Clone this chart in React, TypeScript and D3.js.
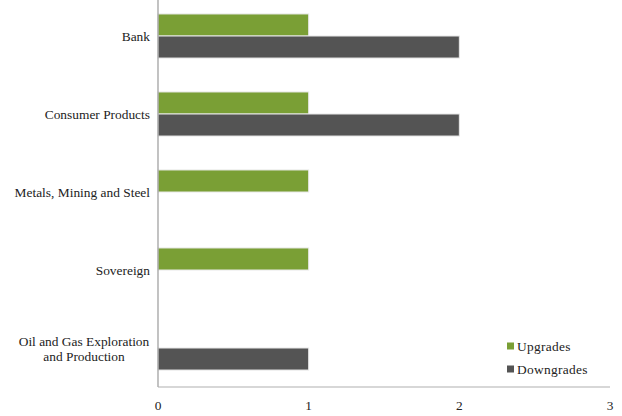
import React from "react";
import * as d3 from "d3";

const categories = [
  "Bank",
  "Consumer Products",
  "Metals, Mining and Steel",
  "Sovereign",
  "Oil and Gas Exploration|and Production",
];
const upgrades = [1, 1, 1, 1, 0];
const downgrades = [2, 2, 0, 0, 1];
const seriesNames = ["Upgrades", "Downgrades"];
const seriesColors = ["#7A9F35", "#545454"];
const xTicks = [0, 1, 2, 3];

const W = 622;
const H = 416;
const left = 158;
const right = 610;
const top = -3;
const bottom = 387;

export default function App() {
  const x = d3.scaleLinear().domain([0, 3]).range([left, right]);
  const y = d3
    .scaleBand<string>()
    .domain(categories)
    .range([top, bottom])
    .paddingInner(0.435)
    .paddingOuter(0.2175);
  const sub = d3.scaleBand<string>().domain(seriesNames).range([0, y.bandwidth()]);
  const series = [upgrades, downgrades];
  const font = "'Liberation Serif', 'DejaVu Serif', serif";
  const fs = 13.4;

  return (
    <svg width={W} height={H} style={{ position: "absolute", left: 0, top: 0 }}>
      <rect x={0} y={0} width={W} height={H} fill="#fff" />
      {categories.map((c, i) =>
        series.map((s, j) =>
          s[i] > 0 ? (
            <rect
              key={c + j}
              x={x(0)}
              y={(y(c) as number) + (sub(seriesNames[j]) as number)}
              width={x(s[i]) - x(0)}
              height={sub.bandwidth()}
              fill={seriesColors[j]}
              stroke="#e8e8e8"
              strokeWidth={1}
            />
          ) : null
        )
      )}
      <line x1={left} x2={left} y1={0} y2={bottom} stroke="#9a9a9a" strokeWidth={1.2} />
      <line x1={left} x2={right} y1={bottom} y2={bottom} stroke="#b0b0b0" strokeWidth={1.2} />
      {categories.map((c) => {
        const lines = c.split("|");
        const cy = (y(c) as number) + y.bandwidth() / 2;
        const lh = 15;
        return (
          <text
            key={c}
            x={150}
            y={cy - ((lines.length - 1) * lh) / 2}
            textAnchor="end"
            dominantBaseline="central"
            fontFamily={font}
            fontSize={fs}
            fill="#222"
          >
            {lines.map((l, k) => (
              <tspan
                key={k}
                x={lines.length > 1 ? 84 : 150}
                textAnchor={lines.length > 1 ? "middle" : "end"}
                dy={k === 0 ? 0 : lh}
              >
                {l}
              </tspan>
            ))}
          </text>
        );
      })}
      {xTicks.map((t) => (
        <text
          key={t}
          x={x(t)}
          y={405}
          textAnchor="middle"
          dominantBaseline="central"
          fontFamily={font}
          fontSize={fs}
          fill="#222"
        >
          {t}
        </text>
      ))}
      {seriesNames.map((n, j) => (
        <g key={n} transform={`translate(507, ${346 + j * 23})`}>
          <rect x={0} y={-3.5} width={7} height={7} fill={seriesColors[j]} />
          <text
            x={10}
            y={0}
            dominantBaseline="central"
            fontFamily={font}
            fontSize={fs}
            letterSpacing={0.3}
            fill="#222"
          >
            {n}
          </text>
        </g>
      ))}
    </svg>
  );
}
